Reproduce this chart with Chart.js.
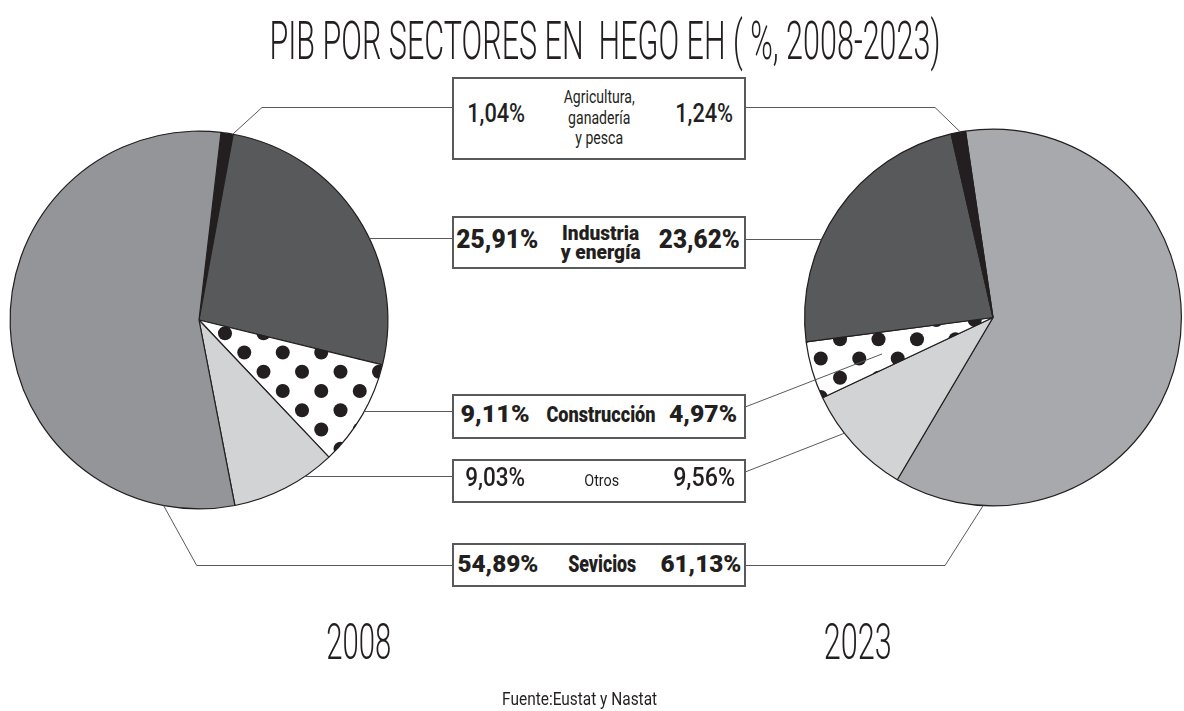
<!DOCTYPE html>
<html>
<head>
<meta charset="utf-8">
<script src="https://cdn.jsdelivr.net/npm/chart.js@4.4.1/dist/chart.umd.min.js"></script>
<style>
  html, body { margin: 0; padding: 0; background: #fff; }
  #page { position: relative; width: 1184px; height: 711px; overflow: hidden; background: #fff; }
  #page canvas { position: absolute; left: 0; top: 0; }
  .box { position: absolute; left: 452px; width: 294px; box-sizing: border-box; border: 2px solid #58595b; background: #fff; }
  .txt { position: absolute; white-space: pre; color: #231f20; text-align: center; transform-origin: 50% 0; }
</style>
</head>
<body>
<div id="page">
  <canvas id="pie2008" width="1184" height="711"></canvas>
  <canvas id="pie2023" width="1184" height="711"></canvas>
</div>
<script>
// data
const sectors = ['Agricultura,\nganadería\ny pesca', 'Industria\ny energía', 'Construcción', 'Otros', 'Sevicios'];
const share2008 = [1.04, 25.91, 9.11, 9.03, 54.89];
const share2023 = [1.24, 23.62, 4.97, 9.56, 61.13];
const years = ['2008', '2023'];
const chartTitle = 'PIB POR SECTORES EN  HEGO EH ( %, 2008-2023)';
const source = 'Fuente:Eustat y Nastat';

const page = document.getElementById('page');
const ink = '#231f20';

// dotted fill for "Construcción", phase matched to each pie
const makeDots = (ox, oy) => {
    const step = 38.5;
    const tile = document.createElement('canvas');
    tile.width = 77; tile.height = 77;
    const t = tile.getContext('2d');
    t.fillStyle = '#fff';
    t.fillRect(0, 0, 77, 77);
    t.fillStyle = ink;
    ox = ox % step; oy = oy % step;
    for (let i = -1; i <= 2; i++) {
        for (let j = -1; j <= 2; j++) {
            [[0, 0], [step / 2, step / 2]].forEach(([dx, dy]) => {
                t.beginPath();
                t.arc(ox + dx + i * step, oy + dy + j * step, 7, 0, Math.PI * 2);
                t.fill();
            });
        }
    }
    return t.createPattern(tile, 'repeat');
};

const colors2008 = ['#231f20', '#58595b', makeDots(225, 333.3), '#d1d3d4', '#939598'];
const colors2023 = ['#231f20', '#58595b', makeDots(840, 339.3), '#d1d3d4', '#a7a9ac'];

// leader lines from the pies to the label boxes
const leaderLines = (links) => ({
    id: 'leaders',
    afterDatasetsDraw(chart) {
        const arc = chart.getDatasetMeta(0).data[0];
        const cx = arc.x, cy = arc.y, r = arc.outerRadius;
        const ctx = chart.ctx;
        ctx.save();
        ctx.strokeStyle = '#58595b';
        ctx.lineWidth = 1;
        links.forEach(l => {
            let p;
            if (l.y !== undefined) {
                p = [cx + l.side * Math.sqrt(r * r - (l.y - cy) ** 2), l.y];
            } else {
                const a = (l.deg - 90) * Math.PI / 180;
                const f = l.f || 1;
                p = [cx + r * f * Math.cos(a), cy + r * f * Math.sin(a)];
            }
            ctx.beginPath();
            ctx.moveTo(p[0], p[1]);
            l.path.forEach(q => ctx.lineTo(q[0], q[1]));
            ctx.stroke();
        });
        ctx.restore();
    }
});

const pieChart = (id, labels, values, colors, rotation, padding, links) => new Chart(document.getElementById(id), {
    type: 'pie',
    data: {
        labels: labels,
        datasets: [{
            data: values,
            backgroundColor: colors,
            borderColor: ink,
            borderWidth: 1.2,
            hoverOffset: 0
        }]
    },
    options: {
        responsive: false,
        maintainAspectRatio: false,
        animation: false,
        devicePixelRatio: 1,
        events: [],
        rotation: rotation,
        layout: { padding: padding },
        plugins: {
            legend: { display: false },
            tooltip: { enabled: false }
        }
    },
    plugins: [leaderLines(links)]
});

// 2008: clockwise from the top
pieChart('pie2008', sectors, share2008, colors2008, 6.7,
    { left: 9.5, top: 130.5, right: 795.5, bottom: 201.5 },
    [
        { deg: 10.3, path: [[262, 107.5], [452, 107.5]] },
        { y: 238.5, side: 1, path: [[452, 238.5]] },
        { y: 411.5, side: 1, path: [[452, 411.5]] },
        { y: 476.5, side: 1, path: [[452, 476.5]] },
        { deg: 190.8, path: [[196.7, 565.5], [452, 565.5]] }
    ]);

// 2023: same sectors running the other way round
pieChart('pie2023', [...sectors].reverse(), [...share2023].reverse(), [...colors2023].reverse(), -8.4,
    { left: 804, top: 128.5, right: 2, bottom: 204.5 },
    [
        { deg: -10, path: [[935, 107.5], [746, 107.5]] },
        { y: 239.5, side: -1, path: [[746, 239.5]] },
        { deg: 251.8, f: 0.62, path: [[746, 406.7]] },
        { deg: 232.1, path: [[746, 471.7]] },
        { deg: 183, path: [[945, 565.5], [746, 565.5]] }
    ]);

// text helpers: condensed look by squeezing to the measured width
const meas = document.createElement('canvas').getContext('2d');
const place = (text, o) => {
    const family = o.family || 'Roboto';
    meas.font = `${o.weight} 100px ${family}`;
    const capRatio = meas.measureText('H').actualBoundingBoxAscent / 100;
    const fs = o.capH / capRatio;
    meas.font = `${o.weight} ${fs}px ${family}`;
    const hm = meas.measureText('H');
    const asc = hm.fontBoundingBoxAscent, desc = hm.fontBoundingBoxDescent;
    const lines = text.split('\n');
    const natW = Math.max(...lines.map(l => meas.measureText(l).width));
    const lh = o.lineH || fs * 1.2;
    const baseline = (lh - (asc + desc)) / 2 + asc;
    const el = document.createElement('div');
    el.className = 'txt';
    el.textContent = text;
    el.style.font = `${o.weight} ${fs}px ${family}`;
    el.style.lineHeight = lh + 'px';
    el.style.width = natW + 'px';
    el.style.left = (o.cx - natW / 2) + 'px';
    el.style.top = (o.capTop - (baseline - o.capH)) + 'px';
    el.style.transform = `scaleX(${o.w / natW})`;
    page.appendChild(el);
};

const fmt = v => v.toFixed(2).replace('.', ',') + '%';

// label boxes, one per sector
const boxes = [
    { top: 77, h: 83, bold: false, cap: 104.3, capH: 19, l: [496, 58], r: [704, 58], lab: { cx: 599, capTop: 90.7, capH: 12.6, w: 71, lineH: 20.5 } },
    { top: 216, h: 53, bold: true, cap: 230, capH: 18.3, l: [497.5, 82], r: [699, 81], lab: { cx: 601, capTop: 226, capH: 14, w: 80, lineH: 19.5 } },
    { top: 394, h: 45, bold: true, cap: 405, capH: 17.3, l: [495, 69], r: [703, 68], lab: { cx: 601, capTop: 405.5, capH: 16.5, w: 109 } },
    { top: 459, h: 44, bold: false, cap: 468.3, capH: 19, l: [495, 60], r: [704, 62], lab: { cx: 601.5, capTop: 474.3, capH: 11.7, w: 35 } },
    { top: 543, h: 44, bold: true, cap: 555, capH: 17.7, l: [498, 81], r: [700.5, 81], lab: { cx: 602.5, capTop: 555.5, capH: 17, w: 68 } }
];

boxes.forEach((b, i) => {
    const box = document.createElement('div');
    box.className = 'box';
    box.style.top = b.top + 'px';
    box.style.height = b.h + 'px';
    page.appendChild(box);
    const vw = b.bold ? 900 : 500;
    place(fmt(share2008[i]), { cx: b.l[0], w: b.l[1], capTop: b.cap, capH: b.capH, weight: vw });
    place(fmt(share2023[i]), { cx: b.r[0], w: b.r[1], capTop: b.cap, capH: b.capH, weight: vw });
    place(sectors[i], Object.assign({ weight: b.bold ? 900 : 400 }, b.lab));
});

place(chartTitle, { cx: 605, capTop: 22.5, capH: 37.5, w: 671, weight: 300 });
place(years[0], { cx: 359, capTop: 625, capH: 35, w: 65, weight: 300 });
place(years[1], { cx: 857.5, capTop: 625, capH: 35, w: 68, weight: 300 });
place(source, { cx: 580, capTop: 692, capH: 13, w: 155, weight: 400 });
</script>
</body>
</html>
